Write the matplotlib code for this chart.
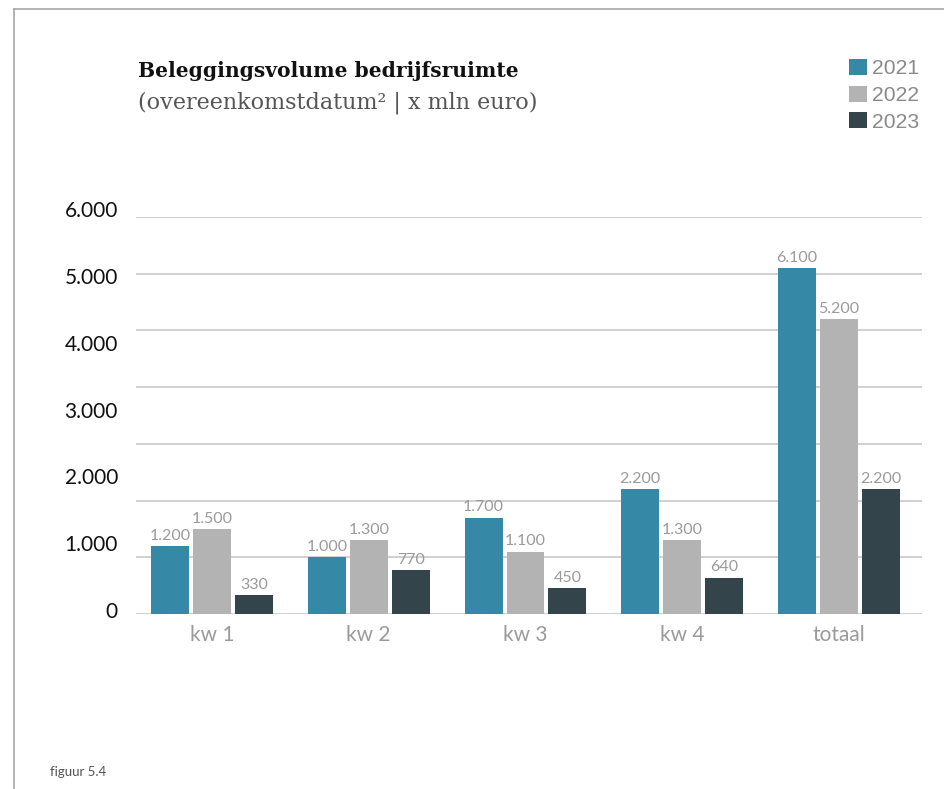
import numpy as np
import matplotlib.pyplot as plt
from matplotlib.lines import Line2D
from matplotlib.patches import Patch

# data
categories = ["kw 1", "kw 2", "kw 3", "kw 4", "totaal"]
years = ["2021", "2022", "2023"]
v2021 = [1200, 1000, 1700, 2200, 6100]
v2022 = [1500, 1300, 1100, 1300, 5200]
v2023 = [330, 770, 450, 640, 2200]
tick_values = [0, 1000, 2000, 3000, 4000, 5000, 6000]

colors = ["#3589a6", "#b3b3b3", "#33454b"]
W, H = 945, 789


def fmt(v):
    return f"{v:,}".replace(",", ".")


fig = plt.figure(figsize=(W / 100, H / 100), dpi=100)

# main bar axes (grid runs 0..7000)
ax = fig.add_axes([136 / W, 1 - 614 / H, 786 / W, 397 / H])
x = np.arange(len(categories))
step = 0.2675
bw = 0.242
for i, (vals, c) in enumerate(zip([v2021, v2022, v2023], colors)):
    xs = x + (i - 1) * step
    ax.bar(xs, vals, width=bw, color=c, zorder=3)
    for xx, v in zip(xs, vals):
        ax.annotate(fmt(v), (xx, v), xytext=(0, 4.5), textcoords="offset points",
                    ha="center", va="baseline", fontsize=11.5, family="Lato",
                    color="#9a9a9a", zorder=4)

ax.set_xlim(-0.485, 4.53)
ax.set_ylim(0, 7000)
for g in range(0, 8000, 1000):
    ax.axhline(g, color="#d0d0d0", lw=1.4, zorder=1)
for s in ax.spines.values():
    s.set_visible(False)
ax.set_yticks([])
ax.set_xticks(x)
ax.set_xticklabels(categories, family="Lato", fontsize=15, color="#9a9a9a")
ax.tick_params(axis="x", length=0, pad=8)

# y labels sit on their own scale (0 .. 6.000)
lab = fig.add_axes([136 / W, 1 - 610 / H, 786 / W, 401 / H])
lab.set_ylim(0, 6000)
lab.set_yticks(tick_values)
lab.set_yticklabels([fmt(t) for t in tick_values], family="Lato", fontsize=15, color="#111111")
lab.tick_params(axis="y", length=0, pad=13)
lab.set_xticks([])
lab.patch.set_visible(False)
for s in lab.spines.values():
    s.set_visible(False)

# titles
fig.text(138 / W, 1 - 77 / H, "Beleggingsvolume bedrijfsruimte", family="DejaVu Serif",
         weight="bold", fontsize=14.6, color="#111111", va="baseline")
fig.text(138 / W, 1 - 109 / H, "(overeenkomstdatum\u00b2 | x mln euro)", family="DejaVu Serif",
         fontsize=16, color="#555555", va="baseline")
fig.text(50 / W, 1 - 776 / H, "figuur 5.4", family="Lato", fontsize=9.5, color="#555555",
         va="baseline")

# legend
handles = [Patch(facecolor=c, edgecolor="none") for c in colors]
fig.legend(handles, years, loc="upper left", bbox_to_anchor=(849 / W, 1 - 59 / H),
           frameon=False, borderpad=0, borderaxespad=0, handlelength=0.85,
           handleheight=0.8, handletextpad=0.25, labelspacing=0.34,
           prop={"family": "Liberation Sans", "size": 15.2}, labelcolor="#8a8a8a")

# page frame
fig.add_artist(Line2D([14.5 / W, 1], [1 - 8.5 / H, 1 - 8.5 / H], color="#a0a0a0", lw=1.1))
fig.add_artist(Line2D([14.5 / W, 14.5 / W], [0, 1 - 8.5 / H], color="#a0a0a0", lw=1.1))

fig.savefig("out.png", dpi=100, facecolor="white")
